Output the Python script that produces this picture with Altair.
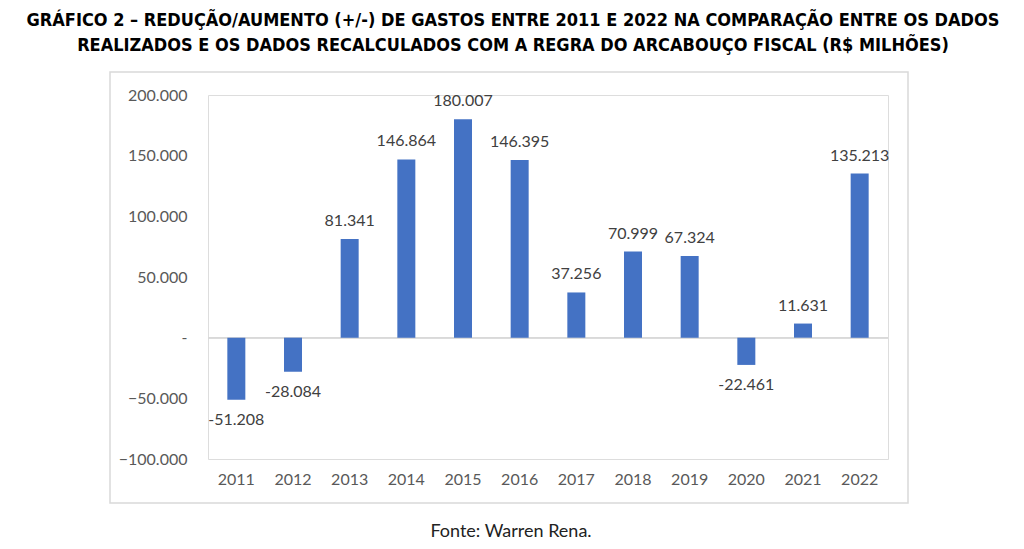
import altair as alt
import pandas as pd

years = ["2011", "2012", "2013", "2014", "2015", "2016", "2017", "2018", "2019", "2020", "2021", "2022"]
values = [-51208, -28084, 81341, 146864, 180007, 146395, 37256, 70999, 67324, -22461, 11631, 135213]
labels = ["-51.208", "-28.084", "81.341", "146.864", "180.007", "146.395", "37.256", "70.999", "67.324", "-22.461", "11.631", "135.213"]
y_ticks = [-100000, -50000, 0, 50000, 100000, 150000, 200000]
title_lines = [
    "GRÁFICO 2 – REDUÇÃO/AUMENTO (+/-) DE GASTOS ENTRE 2011 E 2022 NA COMPARAÇÃO ENTRE OS DADOS",
    "REALIZADOS E OS DADOS RECALCULADOS COM A REGRA DO ARCABOUÇO FISCAL (R$ MILHÕES)",
]
source_text = "Fonte: Warren Rena."

df = pd.DataFrame({"ano": years, "valor": values, "rotulo": labels})

FONT = "Lato"
W, H = 680, 364

x_enc = alt.X("ano:N", sort=years, title=None,
              scale=alt.Scale(paddingInner=0.2, paddingOuter=0.1),
              axis=alt.Axis(domain=False, ticks=False, labelAngle=0, labelPadding=12,
                            labelFont=FONT, labelFontSize=16, labelColor="#595959"))
y_enc = alt.Y("valor:Q", title=None,
              scale=alt.Scale(domain=[-100000, 200000], nice=False),
              axis=alt.Axis(domain=False, ticks=False, grid=False, values=y_ticks,
                            labelPadding=21, labelFont=FONT, labelFontSize=16,
                            labelColor="#595959",
                            labelExpr="datum.value == 0 ? '-' : replace(format(datum.value, ','), ',', '.')"))

base = alt.Chart(df)

frame = alt.Chart(alt.Data(values=[{}])).mark_rect(
    fill="transparent", stroke="#d9d9d9", strokeWidth=1.5, clip=False
).encode(x=alt.value(-98), x2=alt.value(700), y=alt.value(-23), y2=alt.value(408))

zero = base.mark_rule(color="#d9d9d9", strokeWidth=1).encode(
    y=alt.datum(0), x=alt.value(0), x2=alt.value(W))

bars = base.mark_bar(size=18, color="#4472C4").encode(x=x_enc, y=y_enc)

pos_text = base.transform_filter("datum.valor >= 0").mark_text(
    baseline="bottom", dy=-10, font=FONT, fontSize=16, color="#404040"
).encode(x=alt.X("ano:N", sort=years), y="valor:Q", text="rotulo:N")

neg_text = base.transform_filter("datum.valor < 0").mark_text(
    baseline="top", dy=12, font=FONT, fontSize=16, color="#404040"
).encode(x=alt.X("ano:N", sort=years), y="valor:Q", text="rotulo:N")

source = alt.Chart(alt.Data(values=[{}])).mark_text(
    font=FONT, fontSize=18, color="#222222", clip=False
).encode(x=alt.value(303), y=alt.value(437), text=alt.value(source_text))

chart = alt.layer(frame, zero, bars, pos_text, neg_text, source).properties(
    width=W, height=H,
    title=alt.TitleParams(text=title_lines, anchor="middle", dx=-35, offset=16,
                          font="Liberation Sans Narrow, DejaVu Sans Condensed, sans-serif",
                          fontSize=18, fontWeight="bold", color="#000000", lineHeight=25),
    autosize=alt.AutoSizeParams(type="none"),
    padding={"left": 208, "top": 95, "right": 136, "bottom": 90},
).configure_view(stroke=None).configure(background="white")

chart.save("out.html", embed_options={"renderer": "svg", "actions": False})
